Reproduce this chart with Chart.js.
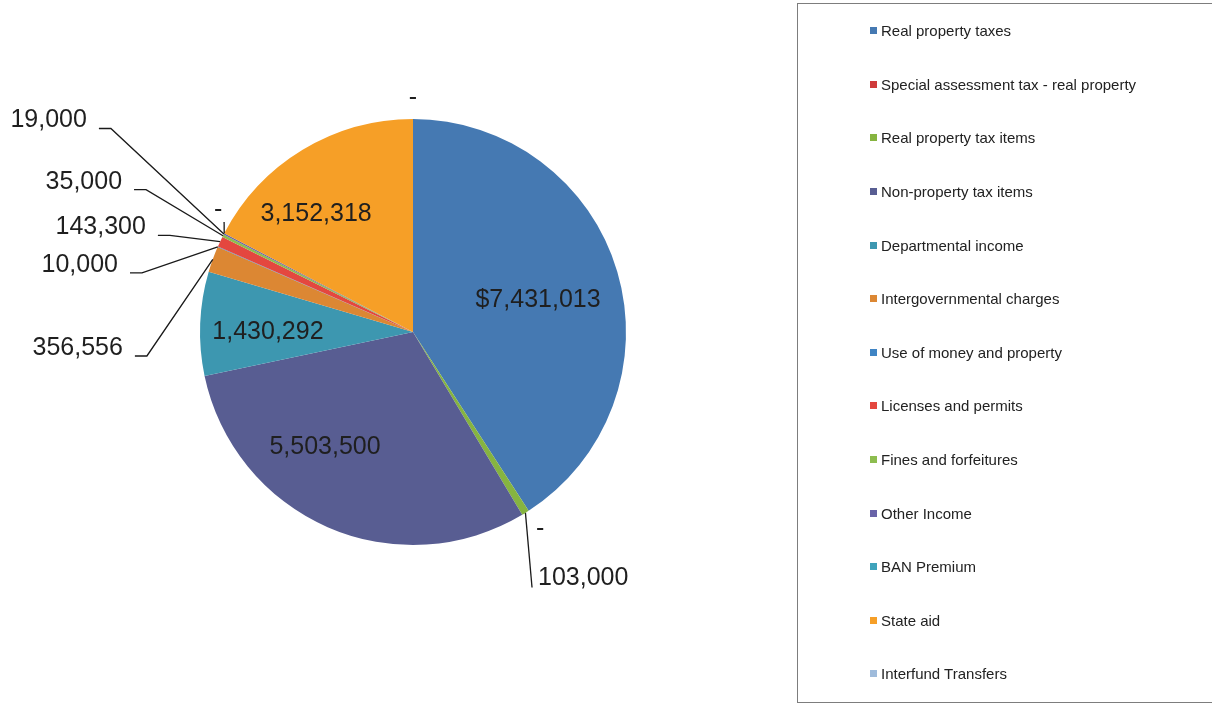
<!DOCTYPE html>
<html>
<head>
<meta charset="utf-8">
<title>Revenues</title>
<script src="https://cdn.jsdelivr.net/npm/chart.js@4.4.0/dist/chart.umd.min.js"></script>
<style>
  html, body { margin: 0; padding: 0; background: #fff; overflow: hidden; }
  #wrap { position: relative; width: 1212px; height: 716px; font-family: "Liberation Sans", Arial, sans-serif; }
  #revenueChart { position: absolute; left: 0; top: 0; }
  #legend {
    position: absolute; left: 797px; top: 3px; width: 440px; height: 700px;
    border: 1px solid #7d7d7d; box-sizing: border-box; margin: 0; padding: 0; list-style: none;
  }
  #legend li {
    height: 53.6px; display: flex; align-items: center; padding-left: 72px;
    font-size: 15px; color: #222;
  }
  #legend li span.sw { width: 7px; height: 7px; margin-right: 4px; flex: none; }
</style>
</head>
<body>
<div id="wrap">
  <canvas id="revenueChart" width="1212" height="716"></canvas>
  <ul id="legend"></ul>
</div>
<script>
// Revenue sources, in the order the slices run clockwise from 12 o'clock
const sources = [
  'Real property taxes',
  'Special assessment tax - real property',
  'Real property tax items',
  'Non-property tax items',
  'Departmental income',
  'Intergovernmental charges',
  'Use of money and property',
  'Licenses and permits',
  'Fines and forfeitures',
  'Other Income',
  'BAN Premium',
  'State aid',
  'Interfund Transfers'
];

const amounts = [7431013, 0, 103000, 5503500, 1430292, 356556, 10000, 143300, 35000, 19000, 0, 3152318, 0];

const sliceColors = [
  '#4579b2', '#cf3a3a', '#86b440', '#585d92', '#3d97b0', '#dc8733', '#3f84c4',
  '#e4473f', '#8dbd4f', '#6963a8', '#3fa3bb', '#f69f27', '#9fbbdb'
];

// Where each value label sits: offsets from the pie centre in radii.
// kind: 'in' = inside the slice, 'edge' = just outside at the slice angle,
// 'left' = text to the left with an elbow leader, 'below' / 'up' = straight leader
const labelPlacement = [
  { kind: 'in', dx: 0.587, dy: -0.150 },
  { kind: 'edge' },
  { kind: 'below', dx: 0.587, dy: 1.157 },
  { kind: 'in', dx: -0.413, dy: 0.540 },
  { kind: 'in', dx: -0.681, dy: 0.0 },
  { kind: 'left', dx: -1.362, dy: 0.075 },
  { kind: 'left', dx: -1.385, dy: -0.315 },
  { kind: 'left', dx: -1.254, dy: -0.491 },
  { kind: 'left', dx: -1.366, dy: -0.706 },
  { kind: 'left', dx: -1.531, dy: -0.993 },
  { kind: 'up', dx: -0.915, dy: -0.573 },
  { kind: 'in', dx: -0.455, dy: -0.554 },
  { kind: 'edge' }
];

function formatAmount(v, i) {
  if (v === 0) return '-';
  return (i === 0 ? '$' : '') + v.toLocaleString('en-US');
}

// Draws the value labels and their leader lines from the arc geometry
const valueLabels = {
  id: 'valueLabels',
  afterDatasetsDraw(chart) {
    const ctx = chart.ctx;
    const arcs = chart.getDatasetMeta(0).data;
    ctx.save();
    ctx.font = '25px "Liberation Sans", Arial, sans-serif';
    ctx.fillStyle = '#1f1f1f';
    ctx.strokeStyle = '#1a1a1a';
    ctx.lineWidth = 1.3;
    ctx.textBaseline = 'middle';

    arcs.forEach((arc, i) => {
      const { x, y, startAngle, endAngle, outerRadius } =
        arc.getProps(['x', 'y', 'startAngle', 'endAngle', 'outerRadius'], true);
      const mid = (startAngle + endAngle) / 2;
      const ax = x + Math.cos(mid) * outerRadius;
      const ay = y + Math.sin(mid) * outerRadius;
      const p = labelPlacement[i];
      const text = formatAmount(amounts[i], i);

      if (p.kind === 'edge') {
        ctx.textAlign = 'center';
        ctx.fillText(text, x + Math.cos(mid) * outerRadius * 1.1, y + Math.sin(mid) * outerRadius * 1.1);
        return;
      }

      const tx = x + p.dx * outerRadius;
      const ty = y + p.dy * outerRadius;

      if (p.kind === 'in') {
        ctx.textAlign = 'center';
        ctx.fillText(text, tx, ty);
      } else if (p.kind === 'left') {
        ctx.textAlign = 'right';
        ctx.fillText(text, tx, ty);
        ctx.beginPath();
        ctx.moveTo(tx + 12, ty + 8);
        ctx.lineTo(tx + 24, ty + 8);
        ctx.lineTo(ax, ay);
        ctx.stroke();
      } else if (p.kind === 'below') {
        ctx.textAlign = 'left';
        ctx.fillText(text, tx, ty);
        ctx.beginPath();
        ctx.moveTo(ax, ay);
        ctx.lineTo(tx - 6, ty + 9);
        ctx.stroke();
      } else if (p.kind === 'up') {
        ctx.textAlign = 'center';
        ctx.fillText(text, tx, ty);
        ctx.beginPath();
        ctx.moveTo(ax, ay);
        ctx.lineTo(tx + 6, ty + 12);
        ctx.stroke();
      }
    });
    ctx.restore();
  }
};

const ctx = document.getElementById('revenueChart').getContext('2d');
new Chart(ctx, {
  type: 'pie',
  data: {
    labels: sources,
    datasets: [{
      data: amounts,
      backgroundColor: sliceColors,
      borderWidth: 0
    }]
  },
  options: {
    responsive: false,
    animation: false,
    layout: { padding: { left: 200, right: 586, top: 119, bottom: 171 } },
    plugins: {
      legend: { display: false },
      tooltip: { enabled: false }
    }
  },
  plugins: [valueLabels]
});

// Legend box on the right, one row per source
const legendEl = document.getElementById('legend');
sources.forEach((name, i) => {
  const li = document.createElement('li');
  const sw = document.createElement('span');
  sw.className = 'sw';
  sw.style.background = sliceColors[i];
  li.appendChild(sw);
  li.appendChild(document.createTextNode(name));
  legendEl.appendChild(li);
});
</script>
</body>
</html>
